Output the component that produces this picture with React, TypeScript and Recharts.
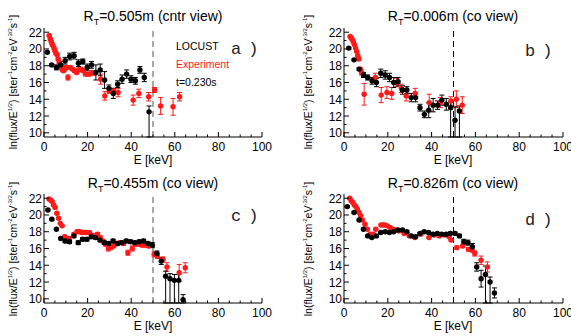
import React from 'react';
import { ScatterChart, Scatter, XAxis, YAxis, ErrorBar, ReferenceLine } from 'recharts';

type Err = number | [number, number];

// a) R_T=0.505m (cntr view)
const aLocustE = [1.5, 3.5, 5.7, 7.7, 9.7, 11.8, 13.8, 15.8, 17.8, 19.8, 21.8, 23.8, 25.8, 27.8, 29.8, 31.8, 33.8, 35.8, 37.9, 39.9, 41.9, 44.0, 46.0, 48.2];
const aLocustFlux = [19.6, 18.1, 17.8, 18.1, 18.6, 19.1, 19.2, 18.3, 18.5, 17.8, 18.1, 17.2, 17.5, 16.3, 15.3, 14.7, 15.8, 16.4, 17.0, 16.4, 16.2, 17.5, 16.6, 12.5];
const aLocustErr: Err[] = [0.1, 0.1, 0.3, 0.4, 0.4, 0.4, 0.4, 0.4, 0.3, 0.4, 0.4, 0.9, 0.7, 1.0, 0.4, 0.6, 0.4, 0.5, 0.5, 0.4, 0.4, 0.4, 0.5, [3.5, 0.7]];
const aExpE = [2.4, 2.9, 3.3, 3.7, 4.1, 4.6, 5.0, 5.5, 6.0, 6.5, 7.0, 7.5, 8.0, 8.5, 9.0, 9.5, 10.0, 11.0, 12.0, 13.0, 14.0, 15.0, 16.0, 17.0, 18.0, 19.0, 20.0, 21.0, 22.0, 23.0, 26.0, 27.9, 30.0, 32.0, 34.0, 40.9, 43.5, 48.0, 50.7, 53.5, 59.2, 62.2];
const aExpFlux = [21.6, 21.2, 20.9, 20.6, 20.4, 20.1, 19.8, 19.5, 19.3, 18.8, 18.4, 18.0, 17.7, 17.5, 17.4, 17.6, 17.8, 16.6, 17.8, 17.6, 17.4, 17.2, 17.5, 17.6, 17.4, 17.0, 17.0, 17.0, 17.2, 17.1, 16.4, 14.4, 15.0, 15.0, 14.8, 13.9, 14.7, 14.3, 15.1, 13.2, 13.1, 14.3];
const aExpErr: Err[] = [0.1, 0.1, 0.1, 0.1, 0.1, 0.1, 0.1, 0.1, 0.1, 0.1, 0.1, 0.1, 0.1, 0.1, 0.1, 0.2, 0.2, 0.3, 0.2, 0.2, 0.2, 0.2, 0.2, 0.2, 0.2, 0.2, 0.2, 0.2, 0.2, 0.2, 0.6, 0.5, 0.3, 0.3, 0.5, 0.6, 0.5, 0.5, 0.3, 1.0, 1.0, 0.5];

// b) R_T=0.006m (co view)
const bLocustE = [2.2, 4.6, 6.9, 8.9, 10.8, 12.8, 14.8, 16.8, 18.8, 20.8, 22.7, 24.7, 26.7, 28.7, 30.7, 32.7, 34.7, 36.7, 38.7, 40.7, 42.7, 44.7, 46.7, 48.7, 50.7, 52.7];
const bLocustFlux = [20.1, 18.7, 17.6, 16.9, 16.6, 16.2, 16.0, 17.1, 16.9, 16.6, 16.0, 16.1, 15.1, 15.1, 14.2, 14.2, 13.0, 12.2, 12.7, 13.3, 13.3, 13.9, 13.4, 13.0, 11.5, 12.6];
const bLocustErr: Err[] = [0.1, 0.1, 0.15, 0.3, 0.3, 0.4, 0.5, 0.5, 0.5, 0.5, 0.6, 0.5, 0.5, 0.4, 0.5, 0.5, 0.4, 0.4, 0.9, 0.8, 0.5, 0.6, 0.7, [4, 0.7], [3, 1.6], [4, 0.6]];
const bExpE = [2.8, 3.3, 3.8, 4.3, 4.8, 5.3, 5.8, 6.3, 6.8, 7.4, 8.0, 9.2, 14.3, 17.0, 19.6, 21.8, 24.1, 26.2, 28.4, 32.5, 38.9, 44.0, 48.8, 51.3, 54.0];
const bExpFlux = [21.5, 21.3, 21.1, 20.8, 20.5, 20.1, 19.7, 19.2, 18.8, 17.6, 17.2, 14.6, 16.6, 14.5, 14.8, 14.7, 16.0, 15.3, 14.4, 14.7, 13.6, 13.6, 13.8, 14.0, 13.3];
const bExpErr: Err[] = [0.1, 0.1, 0.1, 0.1, 0.1, 0.1, 0.1, 0.1, 0.1, 0.2, 0.3, 1.3, 0.5, 0.9, 0.7, 0.7, 0.5, 0.5, 0.6, 0.6, 1.0, 0.6, 0.5, 1.0, 1.0];

// c) R_T=0.455m (co view)
const cLocustE = [1.8, 3.6, 5.7, 7.7, 9.7, 11.7, 13.7, 15.7, 17.7, 19.7, 21.7, 23.7, 25.7, 27.7, 29.7, 31.7, 33.7, 35.7, 37.7, 39.7, 41.7, 43.7, 45.7, 47.7, 49.7, 51.8, 53.8, 55.8, 57.8, 59.8, 61.8, 63.8];
const cLocustFlux = [20.6, 19.5, 18.3, 17.2, 16.9, 16.8, 17.5, 16.7, 17.1, 17.1, 17.4, 17.3, 17.0, 16.7, 16.6, 16.9, 16.6, 16.7, 16.9, 16.8, 16.7, 16.8, 16.9, 16.6, 16.4, 15.4, 14.5, 12.7, 12.4, 12.2, 12.2, 9.9];
const cLocustErr: Err[] = [0.1, 0.1, 0.1, 0.15, 0.2, 0.2, 0.2, 0.2, 0.2, 0.2, 0.2, 0.2, 0.2, 0.2, 0.2, 0.2, 0.2, 0.2, 0.2, 0.2, 0.2, 0.2, 0.2, 0.2, 0.3, 0.3, 0.4, [3.5, 0.6], [3.5, 0.6], [3, 0.7], [3, 0.7], 0.6];
const cExpE = [2.3, 3.0, 3.7, 4.4, 5.1, 5.9, 6.7, 7.5, 8.3, 9.5, 10.5, 11.5, 13.8, 15.2, 16.4, 17.5, 18.6, 19.7, 20.8, 22.0, 23.3, 24.6, 25.8, 27.0, 28.3, 29.5, 30.7, 32.0, 33.5, 35.0, 36.5, 38.5, 40.5, 42.0, 43.5, 45.0, 46.5, 48.0, 50.5, 52.0, 54.6, 56.4, 62.0, 64.8];
const cExpFlux = [21.9, 21.8, 21.6, 21.2, 20.9, 20.2, 19.6, 19.0, 18.7, 17.4, 17.0, 17.2, 17.7, 18.0, 18.0, 17.9, 17.9, 17.9, 17.9, 17.6, 17.5, 17.7, 17.3, 16.9, 16.5, 16.0, 16.1, 16.3, 16.6, 16.7, 16.6, 15.5, 16.0, 16.5, 16.5, 16.4, 16.4, 16.3, 15.3, 15.1, 14.7, 13.8, 13.1, 13.7];
const cExpErr: Err[] = [0.1, 0.1, 0.1, 0.1, 0.1, 0.1, 0.1, 0.1, 0.1, 0.2, 0.3, 0.2, 0.2, 0.2, 0.2, 0.2, 0.2, 0.2, 0.2, 0.2, 0.2, 0.2, 0.2, 0.2, 0.2, 0.3, 0.2, 0.2, 0.2, 0.2, 0.2, 0.3, 0.3, 0.2, 0.2, 0.2, 0.2, 0.2, 0.3, 0.3, 0.3, 0.5, 1.0, 0.6];

// d) R_T=0.826m (co view)
const dLocustE = [1.5, 4.6, 6.9, 8.9, 10.8, 12.7, 14.8, 16.8, 18.8, 20.8, 22.7, 24.7, 26.7, 28.7, 30.7, 32.7, 34.7, 36.6, 38.6, 40.6, 42.6, 44.6, 46.6, 48.5, 50.7, 52.7, 54.7, 56.6, 58.6, 60.6, 62.6, 64.6, 66.7, 68.7];
const dLocustFlux = [21.0, 20.3, 19.4, 18.3, 17.5, 17.3, 17.5, 17.9, 18.0, 17.9, 18.0, 18.2, 18.2, 18.0, 17.5, 17.4, 17.8, 18.0, 17.9, 17.7, 17.8, 17.7, 17.7, 17.8, 17.8, 17.5, 16.8, 16.7, 16.2, 13.8, 12.4, 12.9, 12.0, 10.7];
const dLocustErr: Err[] = [0.1, 0.1, 0.1, 0.1, 0.1, 0.1, 0.1, 0.1, 0.1, 0.1, 0.1, 0.1, 0.1, 0.1, 0.1, 0.1, 0.1, 0.1, 0.1, 0.1, 0.1, 0.1, 0.1, 0.15, 0.15, 0.2, 0.3, 0.3, 0.4, 0.5, 1.0, [4, 1.0], [3, 0.6], 0.6];
const dExpE = [2.6, 3.3, 4.0, 4.7, 5.4, 6.1, 6.9, 7.6, 8.4, 9.6, 10.7, 11.9, 13.3, 14.5, 16.9, 17.8, 18.7, 19.8, 21.0, 22.3, 23.7, 25.2, 27.5, 29.8, 32.3, 35.0, 38.8, 41.2, 43.5, 45.8, 48.0, 48.9, 51.5, 54.2, 56.8, 58.5, 59.7, 62.6, 65.5];
const dExpFlux = [22.0, 21.7, 21.5, 21.2, 21.0, 20.7, 20.3, 19.9, 19.4, 18.9, 18.3, 17.7, 17.7, 18.3, 18.8, 18.8, 18.8, 18.7, 18.5, 18.3, 18.2, 18.1, 17.8, 17.5, 17.3, 17.7, 17.3, 17.6, 17.5, 17.6, 17.4, 17.0, 16.1, 16.3, 15.9, 15.8, 15.4, 14.6, 13.8];
const dExpErr: Err[] = [0.1, 0.1, 0.1, 0.1, 0.1, 0.1, 0.1, 0.1, 0.1, 0.1, 0.1, 0.1, 0.1, 0.1, 0.1, 0.1, 0.1, 0.1, 0.1, 0.1, 0.1, 0.1, 0.1, 0.1, 0.1, 0.1, 0.1, 0.1, 0.1, 0.1, 0.1, 0.1, 0.2, 0.2, 0.2, 0.2, 0.3, 0.5, 0.6];

const xTicks = [0, 5, 10, 15, 20, 25, 30, 35, 40, 45, 50, 55, 60, 65, 70, 75, 80, 85, 90, 95, 100];
const yTicks = [10, 11, 12, 13, 14, 15, 16, 17, 18, 19, 20, 21, 22];
const Y_MIN = 9.5;
const Y_MAX = 22.5;

const FONT = '"Liberation Sans", Arial, Helvetica, sans-serif';
const RED = '#ff1a1a';

// error bars are cut at the frame, as the plot window clips them
const rows = (e: number[], f: number[], err: Err[]) =>
  e.map((x, i) => {
    const [lo, hi] = Array.isArray(err[i]) ? (err[i] as [number, number]) : [err[i] as number, err[i] as number];
    return { e: x, flux: f[i], err: [Math.min(lo, f[i] - Y_MIN), Math.min(hi, Y_MAX - f[i])] };
  });

const BottomTick = ({ x, y, payload }: any) => {
  const major = payload.value % 20 === 0;
  return (
    <g>
      <line x1={x} x2={x} y1={y} y2={y - (major ? 5 : 2.5)} stroke="#000" />
      {major && (
        <text x={x} y={y + 14} textAnchor="middle" fontSize={12} fontFamily={FONT} fill="#000">
          {payload.value}
        </text>
      )}
    </g>
  );
};

const TopTick = ({ x, y, payload }: any) => {
  const major = payload.value % 20 === 0;
  return <line x1={x} x2={x} y1={y} y2={y + (major ? 5 : 2.5)} stroke="#000" />;
};

const LeftTick = ({ x, y, payload }: any) => {
  const major = payload.value % 2 === 0;
  return (
    <g>
      <line x1={x} x2={x + (major ? 5 : 2.5)} y1={y} y2={y} stroke="#000" />
      {major && (
        <text x={x - 2} y={y + 4.5} textAnchor="end" fontSize={12} fontFamily={FONT} fill="#000">
          {payload.value}
        </text>
      )}
    </g>
  );
};

const RightTick = ({ x, y, payload }: any) => {
  const major = payload.value % 2 === 0;
  return <line x1={x} x2={x - (major ? 5 : 2.5)} y1={y} y2={y} stroke="#000" />;
};

const dot = (color: string) => (props: any) => <circle cx={props.cx} cy={props.cy} r={2.7} fill={color} />;

type Row = { e: number; flux: number; err: number[] };

type PanelProps = {
  left: number;
  top: number;
  width: number;
  yw: number;
  mt: number;
  xh: number;
  mr: number;
  locust: Row[];
  exp: Row[];
  dashColor: string;
};

function Panel({ left, top, width, yw, mt, xh, mr, locust, exp, dashColor }: PanelProps) {
  return (
    <div style={{ position: 'absolute', left, top }}>
      <ScatterChart width={width} height={168} margin={{ top: mt, right: mr, bottom: 0, left: 0 }}>
        <XAxis xAxisId="b" type="number" dataKey="e" domain={[0, 100]} ticks={xTicks} interval={0}
          tickSize={0} tickMargin={0} tickLine={false} height={xh} axisLine={{ stroke: '#000' }} tick={<BottomTick />} />
        <XAxis xAxisId="t" orientation="top" type="number" dataKey="e" domain={[0, 100]} ticks={xTicks} interval={0}
          tickSize={0} tickMargin={0} tickLine={false} height={0} axisLine={{ stroke: '#000' }} tick={<TopTick />} />
        <YAxis yAxisId="l" type="number" dataKey="flux" domain={[Y_MIN, Y_MAX]} allowDataOverflow ticks={yTicks} interval={0}
          tickSize={0} tickMargin={0} tickLine={false} width={yw} axisLine={{ stroke: '#000' }} tick={<LeftTick />} />
        <YAxis yAxisId="r" orientation="right" type="number" dataKey="flux" domain={[Y_MIN, Y_MAX]} allowDataOverflow ticks={yTicks} interval={0}
          tickSize={0} tickMargin={0} tickLine={false} width={0} axisLine={{ stroke: '#000' }} tick={<RightTick />} />
        <ReferenceLine xAxisId="b" yAxisId="l" x={50} stroke={dashColor} strokeDasharray="6 4" />
        <Scatter xAxisId="b" yAxisId="l" data={exp} dataKey="flux" shape={dot(RED)} isAnimationActive={false}>
          <ErrorBar dataKey="err" direction="y" width={2.5} stroke={RED} strokeWidth={1} />
        </Scatter>
        <Scatter xAxisId="b" yAxisId="l" data={locust} dataKey="flux" shape={dot('#000')} isAnimationActive={false}>
          <ErrorBar dataKey="err" direction="y" width={2.5} stroke="#000" strokeWidth={1} />
        </Scatter>
      </ScatterChart>
    </div>
  );
}

const abs = (x: number, y: number, extra: React.CSSProperties = {}): React.CSSProperties => ({
  position: 'absolute', left: x, top: y, transform: 'translate(-50%, -50%)', whiteSpace: 'nowrap', fontFamily: FONT, lineHeight: 1, ...extra,
});

const supS: React.CSSProperties = { fontSize: 6, verticalAlign: 'super', lineHeight: 0 };

const YLabel = ({ x, y }: { x: number; y: number }) => (
  <div style={abs(x, y, { transform: 'translate(-50%, -50%) rotate(-90deg)', fontSize: 10.5 })}>
    ln(flux/E<span style={supS}>1/2</span>) [ster<span style={supS}>-1</span>cm<span style={supS}>-2</span>eV<span style={supS}>-3/2</span>s<span style={supS}>-1</span>]
  </div>
);

const Title = ({ x, y, r, view }: { x: number; y: number; r: string; view: string }) => (
  <div style={abs(x, y, { fontSize: 14 })}>
    R<span style={{ fontSize: 9, verticalAlign: 'sub', lineHeight: 0 }}>T</span>={r} ({view})
  </div>
);

const Letter = ({ x, y, t }: { x: number; y: number; t: string }) => (
  <div style={abs(x, y, { fontSize: 17, letterSpacing: -1.5, fontFamily: '"Liberation Mono", "DejaVu Sans Mono", monospace', color: '#222' })}>{t}</div>
);

export default function App() {
  return (
    <div style={{ position: 'absolute', left: 0, top: 0, width: 571, height: 336, background: '#fff', overflow: 'hidden' }}>
      <Panel left={0} top={0} width={285} yw={44} mt={28} xh={31} mr={23}
        locust={rows(aLocustE, aLocustFlux, aLocustErr)} exp={rows(aExpE, aExpFlux, aExpErr)} dashColor="#555" />
      <Panel left={285} top={0} width={286} yw={59} mt={28} xh={31} mr={8}
        locust={rows(bLocustE, bLocustFlux, bLocustErr)} exp={rows(bExpE, bExpFlux, bExpErr)} dashColor="#000" />
      <Panel left={0} top={168} width={285} yw={44} mt={26} xh={33} mr={23}
        locust={rows(cLocustE, cLocustFlux, cLocustErr)} exp={rows(cExpE, cExpFlux, cExpErr)} dashColor="#555" />
      <Panel left={285} top={168} width={286} yw={59} mt={26} xh={33} mr={8}
        locust={rows(dLocustE, dLocustFlux, dLocustErr)} exp={rows(dExpE, dExpFlux, dExpErr)} dashColor="#000" />

      <Title x={153} y={16} r="0.505m" view="cntr view" />
      <Title x={453} y={16} r="0.006m" view="co view" />
      <Title x={153} y={183} r="0.455m" view="co view" />
      <Title x={453} y={183} r="0.826m" view="co view" />

      <YLabel x={13} y={82} />
      <YLabel x={308} y={82} />
      <YLabel x={13} y={249} />
      <YLabel x={308} y={249} />

      <div style={abs(153, 160, { fontSize: 12 })}>E [keV]</div>
      <div style={abs(453, 160, { fontSize: 12 })}>E [keV]</div>
      <div style={abs(153, 326, { fontSize: 12 })}>E [keV]</div>
      <div style={abs(453, 326, { fontSize: 12 })}>E [keV]</div>

      <div style={{ position: 'absolute', left: 176, top: 37, fontFamily: FONT, fontSize: 10.5, lineHeight: '18px' }}>
        <div style={{ color: '#000' }}>LOCUST</div>
        <div style={{ color: RED }}>Experiment</div>
        <div style={{ color: '#000' }}>t=0.230s</div>
      </div>

      <Letter x={244} y={49} t="a )" />
      <Letter x={538} y={51} t="b )" />
      <Letter x={244} y={216} t="c )" />
      <Letter x={538} y={220} t="d )" />
    </div>
  );
}
